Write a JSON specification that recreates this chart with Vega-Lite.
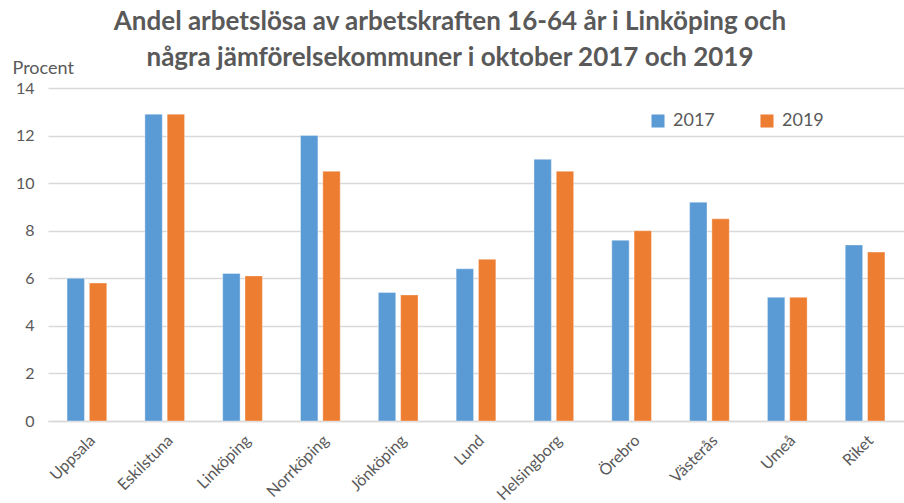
{
  "$schema": "https://vega.github.io/schema/vega-lite/v6.json",
  "autosize": "none",
  "padding": {"left": 48, "top": 88, "right": 0, "bottom": 82},
  "width": 856,
  "height": 333,
  "background": "white",
  "title": {
    "text": ["Andel arbetslösa av arbetskraften 16-64 år i Linköping och", "några jämförelsekommuner i oktober 2017 och 2019"],
    "font": "Lato",
    "fontSize": 26,
    "fontWeight": "bold",
    "color": "#595959",
    "lineHeight": 36,
    "anchor": "middle",
    "dx": -26,
    "dy": 34,
    "offset": 22
  },
  "config": {
    "view": {"stroke": null},
    "font": "Lato"
  },
  "data": {
    "values": [
      {"kommun": "Uppsala", "year": "2017", "value": 6.0},
      {"kommun": "Uppsala", "year": "2019", "value": 5.8},
      {"kommun": "Eskilstuna", "year": "2017", "value": 12.9},
      {"kommun": "Eskilstuna", "year": "2019", "value": 12.9},
      {"kommun": "Linköping", "year": "2017", "value": 6.2},
      {"kommun": "Linköping", "year": "2019", "value": 6.1},
      {"kommun": "Norrköping", "year": "2017", "value": 12.0},
      {"kommun": "Norrköping", "year": "2019", "value": 10.5},
      {"kommun": "Jönköping", "year": "2017", "value": 5.4},
      {"kommun": "Jönköping", "year": "2019", "value": 5.3},
      {"kommun": "Lund", "year": "2017", "value": 6.4},
      {"kommun": "Lund", "year": "2019", "value": 6.8},
      {"kommun": "Helsingborg", "year": "2017", "value": 11.0},
      {"kommun": "Helsingborg", "year": "2019", "value": 10.5},
      {"kommun": "Örebro", "year": "2017", "value": 7.6},
      {"kommun": "Örebro", "year": "2019", "value": 8.0},
      {"kommun": "Västerås", "year": "2017", "value": 9.2},
      {"kommun": "Västerås", "year": "2019", "value": 8.5},
      {"kommun": "Umeå", "year": "2017", "value": 5.2},
      {"kommun": "Umeå", "year": "2019", "value": 5.2},
      {"kommun": "Riket", "year": "2017", "value": 7.4},
      {"kommun": "Riket", "year": "2019", "value": 7.1}
    ]
  },
  "mark": {"type": "bar", "stroke": "white", "strokeOpacity": 0.35, "strokeWidth": 1},
  "encoding": {
    "x": {
      "field": "kommun",
      "type": "nominal",
      "sort": null,
      "scale": {"paddingInner": 0.49, "paddingOuter": 0.245},
      "axis": {
        "title": null,
        "labelAngle": -45,
        "labelFontSize": 16,
        "labelColor": "#595959",
        "labelFont": "Lato",
        "ticks": false,
        "domainColor": "#d9d9d9",
        "domainWidth": 1.3,
        "labelPadding": 11
      }
    },
    "xOffset": {"field": "year", "type": "nominal", "scale": {"paddingInner": 0.22}},
    "y": {
      "field": "value",
      "type": "quantitative",
      "scale": {"domain": [0, 14]},
      "axis": {
        "title": "Procent",
        "titleAngle": 0,
        "titleX": -36,
        "titleY": -11,
        "titleAlign": "left",
        "titleBaseline": "bottom",
        "titleFontSize": 18,
        "titleFontWeight": "normal",
        "titleColor": "#595959",
        "titleFont": "Lato",
        "values": [0, 2, 4, 6, 8, 10, 12, 14],
        "labelFontSize": 16,
        "labelColor": "#595959",
        "labelFont": "Lato",
        "labelPadding": 14,
        "ticks": false,
        "domain": false,
        "gridColor": "#d9d9d9",
        "gridWidth": 1.3
      }
    },
    "color": {
      "field": "year",
      "type": "nominal",
      "scale": {"domain": ["2017", "2019"], "range": ["#5B9BD5", "#ED7D31"]},
      "legend": {
        "title": null,
        "orient": "none",
        "direction": "horizontal",
        "legendX": 601,
        "legendY": 24,
        "symbolType": "square",
        "symbolSize": 170,
        "symbolStrokeWidth": 0,
        "labelFontSize": 18,
        "labelColor": "#595959",
        "labelFont": "Lato",
        "labelOffset": 6,
        "columnPadding": 43,
        "padding": 0
      }
    }
  }
}
